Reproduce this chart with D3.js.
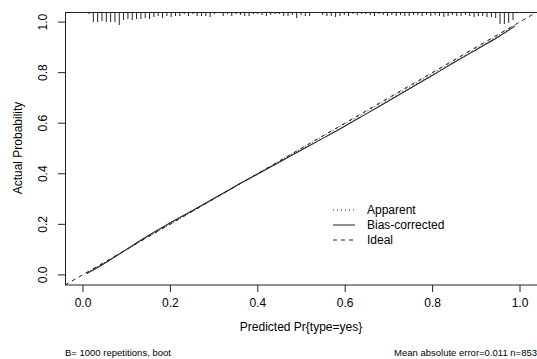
<!DOCTYPE html>
<meta charset="utf-8">
<script src="https://d3js.org/d3.v7.min.js"></script>
<style>
  body { margin: 0; background: #fff; }
  text { font-family: "Liberation Sans", Arial, sans-serif; fill: #000; }
</style>
<div id="chart"></div>
<script>
// predicted probability grid for the calibration curves
var predX = [0.01, 0.05, 0.10, 0.15, 0.20, 0.25, 0.30, 0.35, 0.40, 0.45, 0.50,
             0.55, 0.60, 0.65, 0.70, 0.75, 0.80, 0.85, 0.90, 0.95, 0.99];
var apparent = [0.008, 0.048, 0.098, 0.150, 0.200, 0.250, 0.300, 0.350, 0.400, 0.450, 0.499,
                0.548, 0.597, 0.646, 0.695, 0.745, 0.795, 0.845, 0.895, 0.945, 0.990];
var biasCorrected = [0.005, 0.045, 0.100, 0.155, 0.205, 0.253, 0.302, 0.351, 0.398, 0.446, 0.493,
                     0.540, 0.588, 0.638, 0.688, 0.738, 0.789, 0.840, 0.890, 0.940, 0.985];
// rug of predicted probabilities (100 bins, relative frequency)
var rugCounts = [1,2,10,10,9,10,10,10,13,8,7,8,7,7,6,7,5,4,6,4,5,4,
                 4,2,4,2,4,4,4,5,2,1,4,2,4,2,3,4,4,2,2,3,4,3,2,2,4,4,3,
                 6,3,4,4,1,1,3,4,4,5,4,3,4,2,3,2,2,3,4,2,3,4,3,4,3,4,
                 4,3,3,4,3,4,3,4,5,4,3,4,4,3,4,5,4,4,5,5,6,12,12,11,8];
var ticks = [0, 0.2, 0.4, 0.6, 0.8, 1.0];
var legendItems = ["Apparent", "Bias-corrected", "Ideal"];
var legendDash = ["1,3", null, "4,4"];

var width = 537, height = 359;
var svg = d3.select("#chart").append("svg")
    .attr("width", width).attr("height", height);

var x = d3.scaleLinear().domain([-0.04, 1.04]).range([65, 537]);
var y = d3.scaleLinear().domain([-0.04, 1.04]).range([285, 12]);
var rugLen = d3.scaleLinear().domain([0, d3.max(rugCounts)]).range([0, 13]);

svg.append("clipPath").attr("id", "clip")
  .append("rect").attr("x", 65).attr("y", 12).attr("width", 472).attr("height", 273);

// box
svg.append("rect")
    .attr("x", 65.5).attr("y", 12.5).attr("width", 472).attr("height", 272.5)
    .attr("fill", "none").attr("stroke", "#222").attr("stroke-width", 1);

// axes
var xAxis = svg.append("g").attr("transform", "translate(0,285)")
    .call(d3.axisBottom(x).tickValues(ticks).tickFormat(d3.format(".1f")).tickSize(7).tickPadding(6));
var yAxis = svg.append("g").attr("transform", "translate(65,0)")
    .call(d3.axisLeft(y).tickValues(ticks).tickFormat(d3.format(".1f")).tickSize(7));
[xAxis, yAxis].forEach(function(g) {
  g.select(".domain").remove();
  g.selectAll("line").attr("stroke", "#222");
  g.selectAll("text").attr("font-size", 12).attr("font-family", "Liberation Sans, Arial, sans-serif");
});
yAxis.selectAll("text")
    .attr("x", 0).attr("dy", null).attr("text-anchor", "middle")
    .attr("transform", function(d) { return "translate(-18," + y(d) + ") rotate(-90)"; })
    .attr("y", 0);
yAxis.selectAll(".tick").attr("transform", null);
yAxis.selectAll(".tick line").attr("y1", function(d) { return y(d); }).attr("y2", function(d) { return y(d); });

// rug along top
svg.append("g").selectAll("line").data(rugCounts).enter().append("line")
    .attr("x1", function(d, i) { return x(0.005 + i * 0.0099); })
    .attr("x2", function(d, i) { return x(0.005 + i * 0.0099); })
    .attr("y1", y(1.04)).attr("y2", function(d) { return y(1.04) + rugLen(d); })
    .attr("stroke", "#222").attr("stroke-width", 1);

// ideal line
svg.append("line").attr("clip-path", "url(#clip)")
    .attr("x1", x(-0.04)).attr("y1", y(-0.04)).attr("x2", x(1.04)).attr("y2", y(1.04))
    .attr("stroke", "#222").attr("stroke-dasharray", "4,4");

var line = d3.line().x(function(d) { return x(d[0]); }).y(function(d) { return y(d[1]); })
    .curve(d3.curveMonotoneX);
svg.append("path").datum(d3.zip(predX, apparent)).attr("d", line)
    .attr("fill", "none").attr("stroke", "#222").attr("stroke-dasharray", "1,3");
svg.append("path").datum(d3.zip(predX, biasCorrected)).attr("d", line)
    .attr("fill", "none").attr("stroke", "#222").attr("stroke-width", 1.1);

// legend
var leg = svg.append("g").selectAll("g").data(legendItems).enter().append("g")
    .attr("transform", function(d, i) { return "translate(0," + (210 + i * 15) + ")"; });
leg.append("line").attr("x1", 333).attr("x2", 355).attr("y1", 0).attr("y2", 0)
    .attr("stroke", "#222")
    .attr("stroke-dasharray", function(d, i) { return legendDash[i]; });
leg.append("text").attr("x", 367).attr("y", 4).attr("font-size", 12).text(function(d) { return d; });

// axis titles
svg.append("text").attr("x", 301).attr("y", 331).attr("text-anchor", "middle")
    .attr("font-size", 12).text("Predicted Pr{type=yes}");
svg.append("text").attr("transform", "translate(22,148) rotate(-90)").attr("text-anchor", "middle")
    .attr("font-size", 12).text("Actual Probability");

// footnotes
svg.append("text").attr("x", 65).attr("y", 356).attr("font-size", 9.5)
    .text("B= 1000 repetitions, boot");
svg.append("text").attr("x", 537).attr("y", 356).attr("text-anchor", "end").attr("font-size", 9.5)
    .text("Mean absolute error=0.011 n=853");
</script>
